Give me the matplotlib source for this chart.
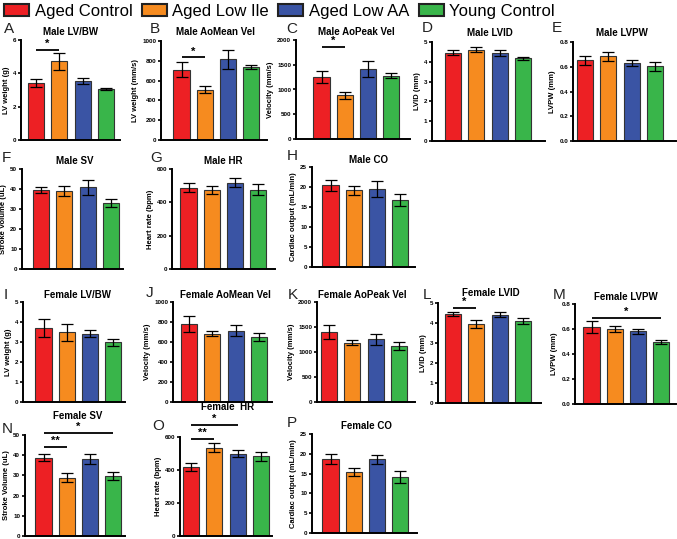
import matplotlib
matplotlib.use("Agg")
import matplotlib.pyplot as plt
from matplotlib.patches import Patch

plt.rcParams['font.family'] = ['Liberation Sans', 'DejaVu Sans']

groups = ["Aged Control", "Aged Low Ile", "Aged Low AA", "Young Control"]
colors = ["#ED2024", "#F68B1F", "#3A54A4", "#39B54A"]

letters = list("ABCDEFGHIJKLMNOP")
titles = ["Male LV/BW", "Male AoMean Vel", "Male AoPeak Vel", "Male LVID", "Male LVPW",
          "Male SV", "Male HR", "Male CO",
          "Female LV/BW", "Female AoMean Vel", "Female AoPeak Vel", "Female LVID", "Female LVPW",
          "Female SV", "Female  HR", "Female CO"]
ylabels = ["LV weight (g)", "LV weight (mm/s)", "Velocity (mm/s)", "LVID (mm)", "LVPW (mm)",
           "Stroke Volume (uL)", "Heart rate (bpm)", "Cardiac output (mL/min)",
           "LV weight (g)", "Velocity (mm/s)", "Velocity (mm/s)", "LVID (mm)", "LVPW (mm)",
           "Stroke Volume (uL)", "Heart rate (bpm)", "Cardiac output (mL/min)"]
ymaxs = [6, 1000, 2000, 5, 0.8, 50, 600, 25, 5, 1000, 2000, 5, 0.8, 50, 600, 25]
ysteps = [2, 200, 500, 1, 0.2, 10, 200, 5, 1, 200, 500, 1, 0.2, 10, 200, 5]

male_lvbw = [3.45, 4.72, 3.55, 3.08]
male_lvbw_err = [0.24, 0.52, 0.16, 0.07]
male_aomean = [712, 510, 814, 735]
male_aomean_err = [78, 34, 95, 18]
male_aopeak = [1260, 880, 1420, 1280]
male_aopeak_err = [120, 70, 165, 45]
male_lvid = [4.45, 4.61, 4.45, 4.17]
male_lvid_err = [0.13, 0.13, 0.15, 0.08]
male_lvpw = [0.651, 0.684, 0.633, 0.603]
male_lvpw_err = [0.033, 0.035, 0.024, 0.035]
male_sv = [39.7, 39.2, 40.8, 33.0]
male_sv_err = [1.5, 2.5, 3.7, 2.0]
male_hr = [488, 474, 518, 476]
male_hr_err = [26, 26, 26, 32]
male_co = [20.4, 19.2, 19.6, 16.8]
male_co_err = [1.3, 1.1, 2.0, 1.5]
female_lvbw = [3.70, 3.48, 3.42, 2.98]
female_lvbw_err = [0.47, 0.43, 0.17, 0.17]
female_aomean = [783, 683, 713, 650]
female_aomean_err = [80, 27, 53, 43]
female_aopeak = [1400, 1187, 1253, 1120]
female_aopeak_err = [147, 53, 113, 80]
female_lvid = [4.45, 3.93, 4.42, 4.08]
female_lvid_err = [0.10, 0.20, 0.13, 0.15]
female_lvpw = [0.616, 0.600, 0.581, 0.496]
female_lvpw_err = [0.045, 0.027, 0.019, 0.019]
female_sv = [38.8, 28.8, 38.0, 29.8]
female_sv_err = [1.7, 2.2, 2.5, 2.0]
female_hr = [418, 535, 499, 483]
female_hr_err = [27, 28, 20, 28]
female_co = [18.75, 15.4, 18.6, 14.1]
female_co_err = [1.25, 1.1, 1.2, 1.5]

means = [male_lvbw, male_aomean, male_aopeak, male_lvid, male_lvpw, male_sv, male_hr, male_co,
         female_lvbw, female_aomean, female_aopeak, female_lvid, female_lvpw, female_sv, female_hr, female_co]
errs = [male_lvbw_err, male_aomean_err, male_aopeak_err, male_lvid_err, male_lvpw_err,
        male_sv_err, male_hr_err, male_co_err,
        female_lvbw_err, female_aomean_err, female_aopeak_err, female_lvid_err, female_lvpw_err,
        female_sv_err, female_hr_err, female_co_err]

# significance: (panel index, group i, group j, y value, label)
sig_panel = [0, 1, 2, 11, 12, 13, 13, 14, 14]
sig_i = [0, 0, 0, 0, 0, 0, 0, 0, 0]
sig_j = [1, 1, 1, 1, 3, 3, 1, 2, 1]
sig_y = [5.4, 836, 1859, 4.75, 0.688, 51.0, 44.1, 673, 588]
sig_lab = ["*", "*", "*", "*", "*", "*", "**", "*", "**"]

W, H = 677, 539
fig = plt.figure(figsize=(W / 100, H / 100), dpi=100)

# layout in pixels: y-spine x, right end, top (ymax) y, bottom (0) y, first bar center
layout = [
    (21, 120, 40, 140, 36), (161, 267, 41, 140, 181.5), (296, 410, 40, 139, 321.5),
    (432, 545, 42, 141, 453), (573, 676, 42, 141, 585),
    (22, 123, 169, 269, 41), (172, 275, 169, 269, 188.5), (312, 415, 167, 267, 330.5),
    (23, 125, 302, 402, 43.5), (173, 272, 302, 402, 189), (317, 415, 302, 402, 329),
    (438, 541, 303, 403, 453), (575, 676, 304, 404, 591.5),
    (25, 125, 435, 536, 43.5), (180, 272, 437, 536, 191), (312, 417, 434, 533, 330.5),
]
letter_pos = [(4, 22), (150, 22), (286, 22), (422, 21), (552, 21),
              (2, 151), (150, 151), (287, 149),
              (4, 288), (146, 286), (288, 288), (423, 288), (553, 288),
              (2, 422), (152, 419), (287, 416)]
title_pos = [(71, 32), (216, 32), (356, 32), (490, 33), (622, 33),
             (75, 161), (223, 161), (368, 160),
             (78, 295), (225, 295), (362, 295), (491, 293), (626, 297),
             (78, 416), (228, 407), (366, 426)]

s = 23.3
axes = []
for k in range(16):
    x0, x1, top, bot, c0 = layout[k]
    ax = fig.add_axes([x0 / W, 1 - bot / H, (x1 - x0) / W, (bot - top) / H])
    axes.append(ax)
    xs = list(range(4))
    ax.bar(xs, means[k], width=0.69, color=colors, edgecolor="#333333", linewidth=0.8, zorder=2)
    ax.errorbar(xs, means[k], yerr=errs[k], fmt="none", ecolor="black", elinewidth=0.9,
                capsize=4.5, capthick=0.9, zorder=3)
    ax.set_xlim((x0 - c0) / s, (x1 - c0) / s)
    ax.set_ylim(0, ymaxs[k])
    n = int(round(ymaxs[k] / ysteps[k]))
    ticks = [i * ysteps[k] for i in range(n + 1)]
    ax.set_yticks(ticks)
    if ysteps[k] < 1:
        ax.set_yticklabels([f"{t:.1f}" for t in ticks])
    else:
        ax.set_yticklabels([f"{int(t)}" for t in ticks])
    ax.set_xticks([])
    for sp in ["top", "right"]:
        ax.spines[sp].set_visible(False)
    for sp in ["left", "bottom"]:
        ax.spines[sp].set_linewidth(1.4)
    ax.tick_params(axis="y", length=2.5, width=1.2, pad=1, labelsize=4.5)
    for lab in ax.get_yticklabels():
        lab.set_fontweight("bold")
    ax.set_ylabel(ylabels[k], fontsize=5.5, fontweight="bold", labelpad=2)
    ax.patch.set_alpha(0)
    fig.text(letter_pos[k][0] / W, 1 - letter_pos[k][1] / H, letters[k], fontsize=11,
             ha="left", va="top", color="#222222")
    fig.text(title_pos[k][0] / W, 1 - title_pos[k][1] / H, titles[k], fontsize=7,
             fontweight="bold", ha="center", va="center")

for p, i, j, y, lab in zip(sig_panel, sig_i, sig_j, sig_y, sig_lab):
    ax = axes[p]
    ax.plot([i, j], [y, y], color="black", lw=1.3, clip_on=False, solid_capstyle="butt")
    ax.annotate(lab, xy=((i + j) / 2, y), xytext=(0, 0.5), textcoords="offset points",
                ha="center", va="bottom", fontsize=8, fontweight="bold", annotation_clip=False)

handles = [Patch(facecolor=c, edgecolor="#222222", linewidth=1.5) for c in colors]
fig.legend(handles, groups, loc="upper left", bbox_to_anchor=(-0.009, 1.012), ncol=4,
           frameon=False, fontsize=12, handlelength=1.5, handleheight=0.75,
           handletextpad=0.35, columnspacing=0.55, borderaxespad=0.2)

fig.savefig("out.png", dpi=100)
